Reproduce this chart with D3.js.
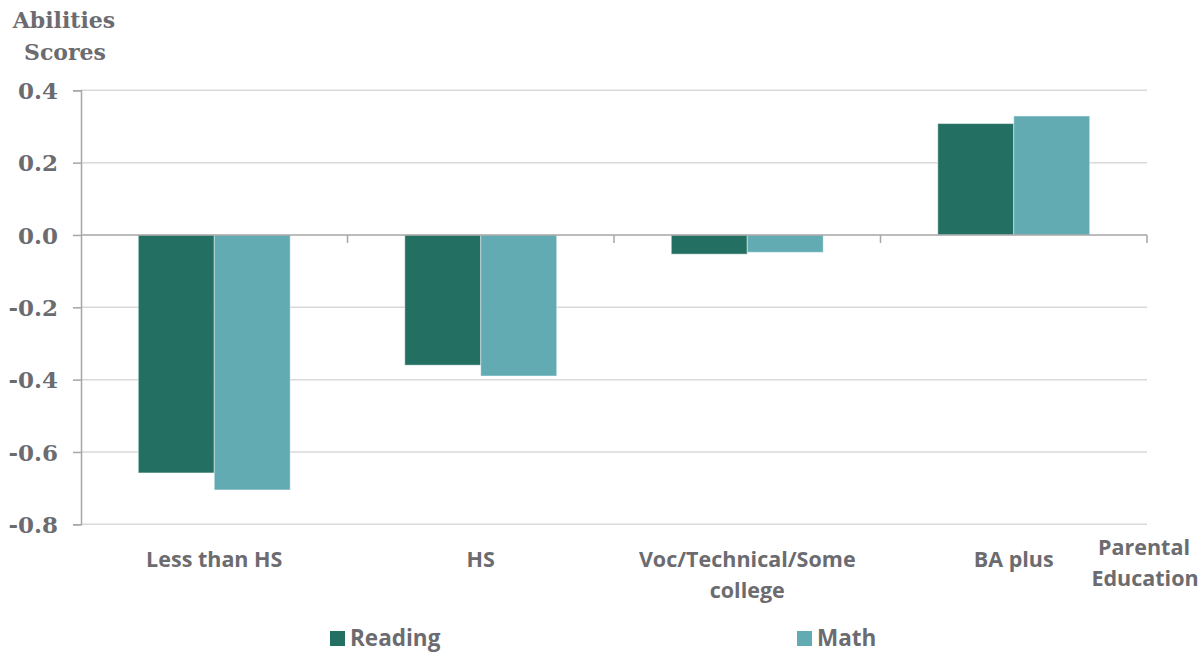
<!DOCTYPE html>
<html><head><meta charset="utf-8">
<script src="https://cdn.jsdelivr.net/npm/d3@7"></script>
<style>body{margin:0;background:#fff}</style>
</head><body>
<svg id="c" width="1204" height="652"></svg>
<script>
const categories = ["Less than HS", "HS", "Voc/Technical/Some college", "BA plus"];
const categoryLines = [["Less than HS"], ["HS"], ["Voc/Technical/Some", "college"], ["BA plus"]];
const seriesNames = ["Reading", "Math"];
const reading = [-0.658, -0.36, -0.053, 0.308];
const math = [-0.705, -0.39, -0.048, 0.329];
const yTicks = [0.4, 0.2, 0.0, -0.2, -0.4, -0.6, -0.8];
const colors = ["#236f62", "#63abb3"];

const svg = d3.select("#c");
const L = 81, R = 1147, T = 90.3, B = 524.3;
const y = d3.scaleLinear().domain([-0.8, 0.4]).range([B, T]);
const x0 = d3.scaleBand().domain(categories).range([L, R]).paddingInner(0.43).paddingOuter(0.215);
const x1 = d3.scaleBand().domain(seriesNames).range([0, x0.bandwidth()]);
const grey = "#6b6b70";

// gridlines
svg.append("g").selectAll("line").data(yTicks.filter(d => d !== 0)).join("line")
  .attr("x1", L).attr("x2", R).attr("y1", d => y(d)).attr("y2", d => y(d))
  .attr("stroke", "#d9d9d9").attr("stroke-width", 1.5);

// y axis
const yAxis = d3.axisLeft(y).tickValues(yTicks).tickSize(8).tickFormat(d3.format(".1f"));
const gy = svg.append("g").attr("transform", `translate(${L},0)`).call(yAxis);
gy.select(".domain").attr("stroke", "#a6a6a6").attr("stroke-width", 1.5);
gy.selectAll(".tick line").attr("stroke", "#a6a6a6").attr("stroke-width", 1.5);
gy.selectAll(".tick text").attr("x", -23).attr("dy", "0.35em")
  .attr("fill", grey).style("font-family", "'DejaVu Serif', serif").style("font-weight", "bold").style("font-size", "23px")
  .text(d => d3.format(".1f")(d).replace("−", "-"));

// bars
const data = categories.map((c, i) => ({c, vals: [reading[i], math[i]]}));
const g = svg.append("g");
data.forEach(d => {
  d.vals.forEach((v, j) => {
    g.append("rect")
      .attr("x", x0(d.c) + x1(seriesNames[j]))
      .attr("width", x1.bandwidth())
      .attr("y", y(Math.max(0, v)))
      .attr("height", Math.abs(y(v) - y(0)))
      .attr("fill", colors[j])
      .attr("stroke", "rgba(255,255,255,0.45)").attr("stroke-width", 1);
  });
});

// x axis at zero
const bounds = d3.range(categories.length + 1).map(i => L + i * (R - L) / categories.length);
svg.append("line").attr("x1", L).attr("x2", R).attr("y1", y(0)).attr("y2", y(0))
  .attr("stroke", "#a6a6a6").attr("stroke-width", 1.5);
svg.append("g").selectAll("line").data(bounds.slice(1)).join("line")
  .attr("x1", d => d).attr("x2", d => d).attr("y1", y(0)).attr("y2", y(0) + 8)
  .attr("stroke", "#a6a6a6").attr("stroke-width", 1.5);

// category labels
const sans = "'Open Sans', sans-serif";
categories.forEach((c, i) => {
  const t = svg.append("text").attr("x", x0(c) + x0.bandwidth() / 2).attr("y", 567)
    .attr("text-anchor", "middle").attr("fill", grey)
    .style("font-family", sans).style("font-weight", "bold").style("font-size", "21.5px");
  categoryLines[i].forEach((ln, k) => t.append("tspan").attr("x", x0(c) + x0.bandwidth() / 2).attr("dy", k ? 31 : 0).text(ln));
});

// axis titles
const xt = svg.append("text").attr("x", 1145).attr("y", 555).attr("text-anchor", "middle").attr("fill", grey)
  .style("font-family", sans).style("font-weight", "bold").style("font-size", "21.5px");
xt.append("tspan").attr("x", 1144).text("Parental");
xt.append("tspan").attr("x", 1145).attr("dy", 31).text("Education");

const yt = svg.append("text").attr("x", 64).attr("y", 28).attr("text-anchor", "middle").attr("fill", grey)
  .style("font-family", "'DejaVu Serif', serif").style("font-weight", "bold").style("font-size", "22px");
yt.append("tspan").attr("x", 64).text("Abilities");
yt.append("tspan").attr("x", 65).attr("dy", 32).text("Scores");

// legend
const legX = [330, 797];
seriesNames.forEach((s, j) => {
  svg.append("rect").attr("x", legX[j]).attr("y", 631).attr("width", 15).attr("height", 15).attr("fill", colors[j]);
  svg.append("text").attr("x", legX[j] + 20).attr("y", 646).attr("fill", grey)
    .style("font-family", sans).style("font-weight", "bold").style("font-size", "22.5px").text(s);
});
</script>
</body></html>
